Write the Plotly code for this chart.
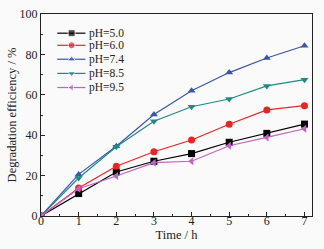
import plotly.graph_objects as go

time_h = [0, 1, 2, 3, 4, 5, 6, 7]
ph_labels = ["pH=5.0", "pH=6.0", "pH=7.4", "pH=8.5", "pH=9.5"]
ph50 = [0, 11.1, 21.8, 27.1, 30.9, 36.5, 40.9, 45.5]
ph60 = [0, 13.9, 24.6, 31.8, 37.6, 45.4, 52.5, 54.6]
ph74 = [0, 20.6, 34.5, 50.2, 62.0, 71.0, 78.2, 84.3]
ph85 = [0, 18.8, 34.3, 46.9, 54.1, 57.9, 64.4, 67.5]
ph95 = [0, 13.5, 19.8, 26.4, 27.1, 34.8, 38.9, 43.2]

series = [ph50, ph60, ph74, ph85, ph95]
colors = ["#000000", "#ee2222", "#3b55a8", "#1e8a88", "#c262c4"]
symbols = ["square", "circle", "triangle-up", "triangle-down", "triangle-left"]

# legend layout (fractions of the plot area)
leg_x = [0.060, 0.113, 0.164]
leg_text_x = 0.172
leg_y = [0.905, 0.845, 0.776, 0.706, 0.636]

FONT = "Liberation Serif, Times New Roman, serif"
fig = go.Figure()
for lab, ys, c, s in zip(ph_labels, series, colors, symbols):
    fig.add_trace(go.Scatter(x=time_h, y=ys, name=lab, mode="lines+markers",
                             line=dict(color=c, width=1.2),
                             marker=dict(symbol=s, size=7, color=c),
                             showlegend=False))

for lab, c, s, ly in zip(ph_labels, colors, symbols, leg_y):
    fig.add_trace(go.Scatter(x=leg_x, y=[ly] * 3, xaxis="x2", yaxis="y2",
                             mode="lines+markers", line=dict(color=c, width=1.2),
                             marker=dict(symbol=s, size=[0, 7, 0], color=c),
                             showlegend=False, hoverinfo="skip"))
    fig.add_annotation(x=leg_text_x, y=ly, xref="x2", yref="y2", text=lab,
                       showarrow=False, xanchor="left", yanchor="middle",
                       borderpad=0,
                       font=dict(family=FONT, size=11.5, color="#222"))

fig.update_layout(
    width=324, height=249,
    margin=dict(l=41, r=12, t=14, b=33),
    paper_bgcolor="#fafafa", plot_bgcolor="#fafafa",
    font=dict(family=FONT, color="#222", size=12),
    showlegend=False,
    xaxis2=dict(overlaying="x", range=[0, 1], visible=False),
    yaxis2=dict(overlaying="y", range=[0, 1], visible=False),
)
fig.layout.xaxis.update(range=[0, 7.2], tickvals=list(range(8)), showgrid=False, zeroline=False,
                        showline=True, linecolor="#222", linewidth=1, mirror=True, automargin=False,
                        ticks="inside", ticklen=4, tickcolor="#222", ticklabelstandoff=-6,
                        tickfont=dict(size=12),
                        minor=dict(ticks="inside", ticklen=2, dtick=0.5, tick0=0, tickcolor="#222"),
                        title=dict(text="Time / h", standoff=2, font=dict(size=12.5)))
fig.layout.yaxis.update(range=[0, 100], dtick=20, showgrid=False, zeroline=False,
                        showline=True, linecolor="#222", linewidth=1, mirror=True, automargin=False,
                        ticks="inside", ticklen=4, tickcolor="#222", tickfont=dict(size=12),
                        minor=dict(ticks="inside", ticklen=2, dtick=10, tick0=0, tickcolor="#222"),
                        title=dict(text="Degradation efficiency / %", standoff=0, font=dict(size=12.5)))

fig.write_html("out.html", config={"displayModeBar": False},
               post_script="document.body.style.margin='0';document.body.style.overflow='hidden';")
